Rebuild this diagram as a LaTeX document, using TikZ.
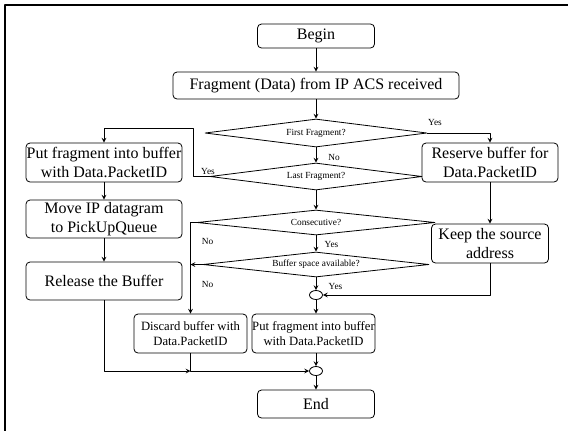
\documentclass[tikz,border=0pt]{standalone}
\usepackage{fontspec}
\setmainfont{Liberation Serif}
\usetikzlibrary{shapes.geometric}
\tikzset{
	sz/.style 2 args={minimum width=#1*0.75pt, minimum height=#2*0.75pt},
	box/.style={draw, rounded corners=3pt, align=center, inner sep=0pt, font=\fontsize{12}{14}\selectfont},
	boxsmall/.style={box, font=\fontsize{9.5}{11.5}\selectfont},
	test/.style={draw, diamond, inner sep=0pt, aspect=8, font=\fontsize{7}{8}\selectfont},
	junc/.style={draw, ellipse, inner sep=0pt, sz={13}{9}},
	lbl/.style={inner sep=0pt, font=\fontsize{7}{8}\selectfont},
}
\begin{document}
\begin{tikzpicture}[x=0.75pt, y=-0.75pt, >=stealth, line width=0.6pt, line join=round]
			\useasboundingbox (0,0) rectangle (568,430);
			\draw[line width=1.5pt] (4.5,434)--(4.5,4.5)--(572,4.5);
			% main column
			\node[box, sz={117}{24}] (begin) at (316,36) {Begin};
			\node[box, sz={286}{27}] (frag) at (316,85.5) {Fragment (Data) from IP ACS received};
			\node[test, sz={222}{28}] (first) at (316,133) {First Fragment?};
			\node[test, sz={212}{27}] (last) at (316,176.5) {Last Fragment?};
			\node[test, sz={238}{25}, aspect=9.5] (consec) at (316,222.5) {Consecutive?};
			\node[test, sz={226}{25}, aspect=9] (space) at (316,264.5) {Buffer space available?};
			\node[junc] (join1) at (316,295) {};
			\node[boxsmall, sz={123}{39}] (putB) at (313.5,333.5) {Put fragment into buffer\\with Data.PacketID};
			\node[junc] (join2) at (316,371) {};
			\node[box, sz={117}{28}] (end) at (316,404) {End};
			% left column
			\node[box, sz={156}{39}] (putA) at (104,162.5) {Put fragment into buffer\\with Data.PacketID};
			\node[box, sz={156}{38}] (move) at (104,219) {Move IP datagram\\to PickUpQueue};
			\node[box, sz={156}{38}] (release) at (104,281) {Release the Buffer};
			\node[boxsmall, sz={113}{39}] (discard) at (190.5,333.5) {Discard buffer with\\Data.PacketID};
			% right column
			\node[box, sz={136}{39}] (reserve) at (490,162.5) {Reserve buffer for\\Data.PacketID};
			\node[box, sz={117}{39}] (keep) at (490,243.5) {Keep the source\\address};
			\coordinate (bend) at (193,128);
			% connectors
			\draw[->] (begin)--(frag);
			\draw[->] (frag)--(first);
			\draw[->] (first)--(last);
			\draw[->] (last)--(consec);
			\draw[->] (consec)--(space);
			\draw[->] (space)--(join1);
			\draw[->] (join1)--(join1|-putB.north);
			\draw[->] (join2|-putB.south)--(join2);
			\draw[->] (join2)--(end);
			\draw[->] (first.east)-|(reserve.north);
			\draw[->] (reserve)--(keep);
			\draw[->] (keep.south)|-(join1.east);
			\draw[->] (last.west)-|(bend)-|(putA.north);
			\draw[->] (putA)--(move);
			\draw[->] (move)--(release);
			\draw[->] (consec.west)-|(discard.north);
			\draw[->] (space.west)--(space.west-|discard.north);
			\draw[->] (release.south)|-(discard.south|-join2);
			\draw[->] (discard.south)|-(join2.west);
			\path 
			(435,122) node[lbl] (yesA) {Yes}
			(334,157) node[lbl] (noA) {No}
			(208,171) node[lbl] (yesB) {Yes}
			(207.5,241) node[lbl] (noC) {No}
			(331.5,244) node[lbl] (yesC) {Yes}
			(207.5,284) node[lbl] (noD) {No}
			(335.5,286) node[lbl] (yesD) {Yes}
			;
		\end{tikzpicture}
\end{document}
